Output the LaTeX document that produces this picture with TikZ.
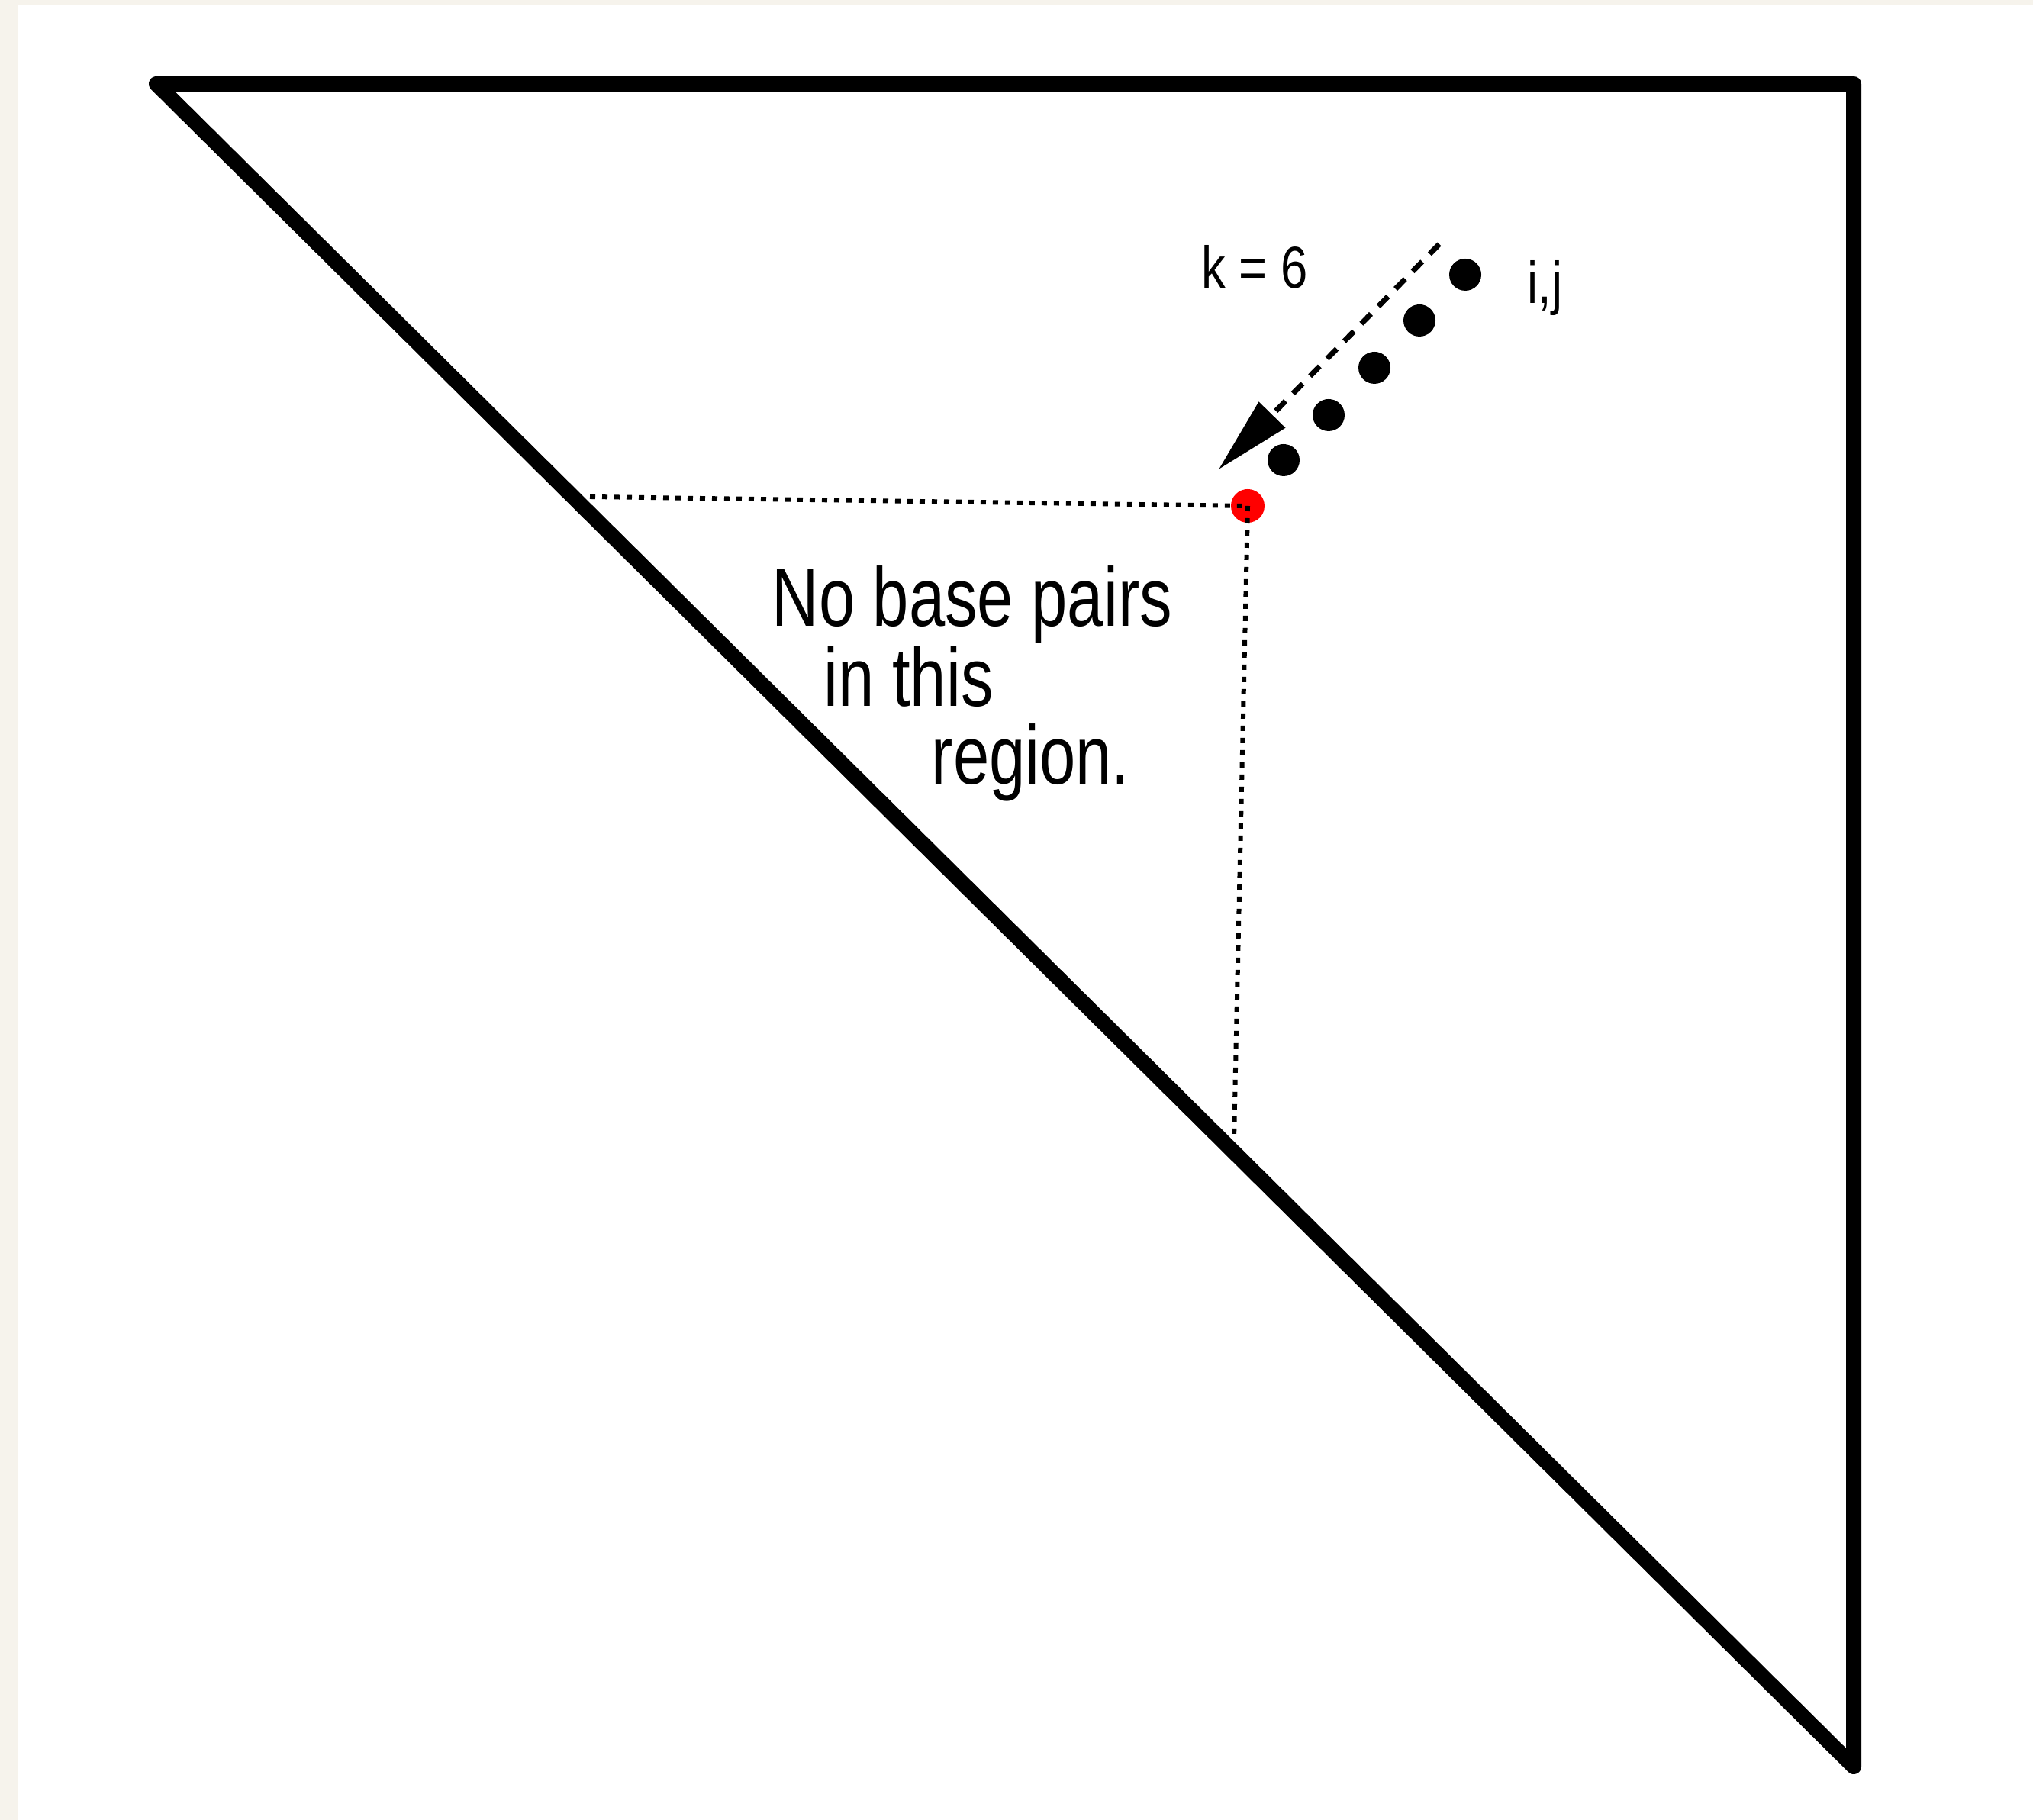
\documentclass[tikz,border=0pt]{standalone}
\usepackage{fontspec}
\newfontfamily\condfont[FakeStretch=0.78]{Liberation Sans}
\newfontfamily\labelfont[FakeStretch=0.82]{Liberation Sans}
\usetikzlibrary{arrows.meta}
\definecolor{paper}{HTML}{F6F3EC}
\tikzset{
    bigtext/.style={inner sep=0pt, anchor=base west, font=\condfont\fontsize{31}{31}\selectfont},
    smalltext/.style={inner sep=0pt, anchor=base west, font=\labelfont\fontsize{22}{22}\selectfont},
    bead/.style={circle, fill=black, inner sep=0pt, minimum size=0.42cm},
    guide/.style={line width=0.06cm, dash pattern=on 0.07cm off 0.09cm},
}
\begin{document}
\begin{tikzpicture}
        % Paper and page
        \fill[paper] (0,0) rectangle (26.64,23.85);
        \fill[white] (0.24,0) rectangle (26.64,23.78);
        \useasboundingbox (0,0) rectangle (26.64,23.85);
        % Triangle
        \draw[line width=0.2cm, line join=round] (2.05,22.75) -- (24.29,22.75) -- (24.29,0.70) -- cycle;
        % Red point
        \node[circle, fill=red, inner sep=0pt, minimum size=0.44cm] (redpt) at (16.35,17.22) {};
        % Guidelines down to the diagonal
        \coordinate (hleft) at (7.73,17.34);
        \coordinate (vbot) at (16.17,8.92);
        \draw[guide] (hleft) -- (redpt.center);
        \draw[guide] (redpt.center) -- (vbot);
        % Beads from i,j
        \node[bead] (bead1) at (19.20,20.25) {};
        \node[bead] (bead2) at (18.60,19.65) {};
        \node[bead] (bead3) at (18.01,19.03) {};
        \node[bead] (bead4) at (17.41,18.41) {};
        \node[bead] (bead5) at (16.82,17.82) {};
        % Dashed arrow
        \coordinate (arrstart) at (18.86,20.65);
        \coordinate (arrtip) at (15.97,17.70);
        \draw[line width=0.07cm, dash pattern=on 0.18cm off 0.14cm, -{Triangle[length=1cm, width=0.47cm]}] (arrstart) -- (arrtip);
        % Labels
        \node[smalltext] (klabel) at (15.74,20.07) {k = 6};
        \node[smalltext] (ijlabel) at (20.01,19.87) {i,j};
        \node[bigtext] (line1) at (10.11,15.64) {No base pairs};
        \node[bigtext] (line2) at (10.79,14.59) {in this};
        \node[bigtext] (line3) at (12.20,13.57) {region.};
    \end{tikzpicture}
\end{document}
